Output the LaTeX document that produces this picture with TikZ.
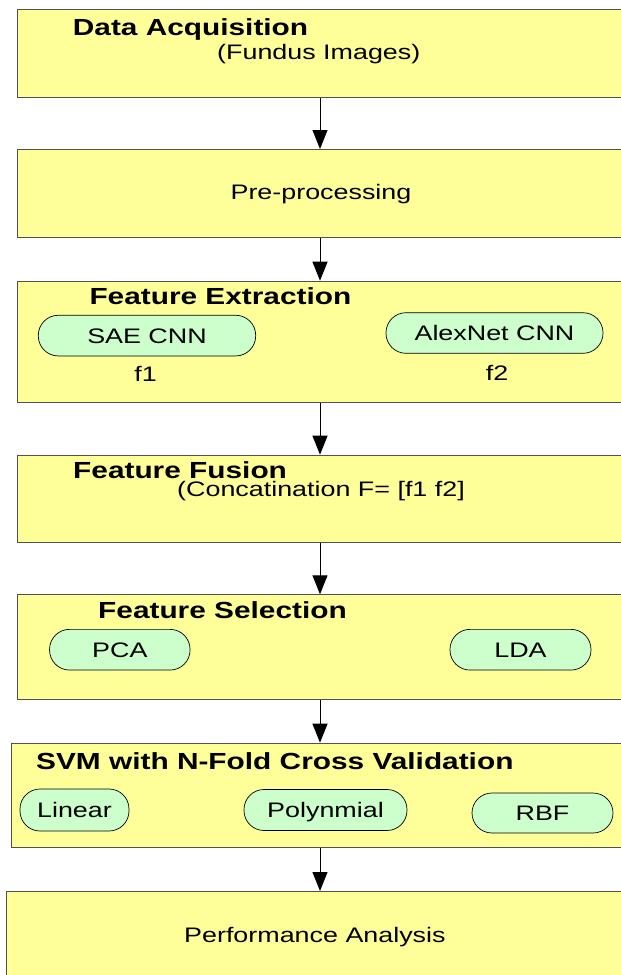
\documentclass[tikz,border=0pt]{standalone}
\usepackage{fontspec}
\setmainfont{Liberation Sans}[FakeStretch=1.28]
\usetikzlibrary{arrows.meta}
\definecolor{boxfill}{RGB}{255,255,153}
\definecolor{pillfill}{RGB}{204,255,204}
\definecolor{boxline}{RGB}{80,80,80}
\tikzset{
  stage/.style={draw=boxline, line width=0.9pt, fill=boxfill, rectangle, inner sep=0pt, anchor=north west},
  pill/.style={draw=black, line width=0.7pt, fill=pillfill, rectangle, rounded corners=20pt, inner sep=0pt,
    font=\fontsize{21}{25}\selectfont, text height=15pt, text depth=0pt},
  ttl/.style={inner sep=0pt, anchor=base west, font=\fontsize{23.3}{28}\selectfont\bfseries},
  txt/.style={inner sep=0pt, font=\fontsize{21}{25}\selectfont},
  flow/.style={draw=black, line width=1pt, -{Triangle[length=19pt,width=15pt]}}
}
\begin{document}
\begin{tikzpicture}[x=1pt,y=-1pt]
\useasboundingbox (0,0) rectangle (621,975);
\clip (0,0) rectangle (621,975);
\coordinate (ax) at (320,0);
% stage boxes
\node[stage, minimum width=620pt, minimum height=87.4pt] (b1) at (16.7,9.3) {};
\node[stage, minimum width=620pt, minimum height=88pt] (b2) at (16.7,149) {};
\node[stage, minimum width=620pt, minimum height=121.3pt] (b3) at (16.7,280.7) {};
\node[stage, minimum width=620pt, minimum height=87pt] (b4) at (16.7,454.7) {};
\node[stage, minimum width=620pt, minimum height=104.7pt] (b5) at (16.7,594.3) {};
\node[stage, minimum width=625pt, minimum height=104.6pt] (b6) at (11,742.7) {};
\node[stage, minimum width=630pt, minimum height=110pt] (b7) at (6,891) {};
% texts
\node[ttl] (t1) at (72.7,35) {Data Acquisition};
\node[txt, anchor=base west] (t1b) at (217,59.5) {(Fundus Images)};
\node[txt, anchor=base] (t2) at (321,199.3) {Pre-processing};
\node[ttl] (t3) at (89.3,304.7) {Feature Extraction};
\node[pill, minimum width=217.4pt, minimum height=40.7pt] (sae) at (147,335.6) {SAE CNN};
\node[pill, minimum width=217pt, minimum height=40.6pt] (alex) at (494.5,333) {AlexNet CNN};
\node[txt, anchor=base] (f1) at (145.5,381.3) {f1};
\node[txt, anchor=base] (f2) at (497,380.7) {f2};
\node[ttl] (t4) at (73,478.3) {Feature Fusion};
\node[txt, anchor=base west] (t4b) at (177,496.7) {(Concatination F= [f1 f2]};
\node[ttl] (t5) at (98,618.3) {Feature Selection};
\node[pill, minimum width=140.5pt, minimum height=40.7pt] (pca) at (119.8,649.7) {PCA};
\node[pill, minimum width=141pt, minimum height=40.7pt] (lda) at (520.5,649.7) {LDA};
\node[ttl] (t6) at (36,769) {SVM with N-Fold Cross Validation};
\node[pill, minimum width=109pt, minimum height=42pt] (lin) at (74.5,810) {Linear};
\node[pill, minimum width=163pt, minimum height=41pt] (poly) at (325.5,810) {Polynmial};
\node[pill, minimum width=141pt, minimum height=40pt] (rbf) at (542.5,813) {RBF};
\node[txt, anchor=base west] (t7) at (184,942.3) {Performance Analysis};
% connectors
\draw[flow] (b1.south -| ax) -- (b2.north -| ax);
\draw[flow] (b2.south -| ax) -- (b3.north -| ax);
\draw[flow] (b3.south -| ax) -- (b4.north -| ax);
\draw[flow] (b4.south -| ax) -- (b5.north -| ax);
\draw[flow] (b5.south -| ax) -- (b6.north -| ax);
\draw[flow] (b6.south -| ax) -- (b7.north -| ax);
\end{tikzpicture}
\end{document}
